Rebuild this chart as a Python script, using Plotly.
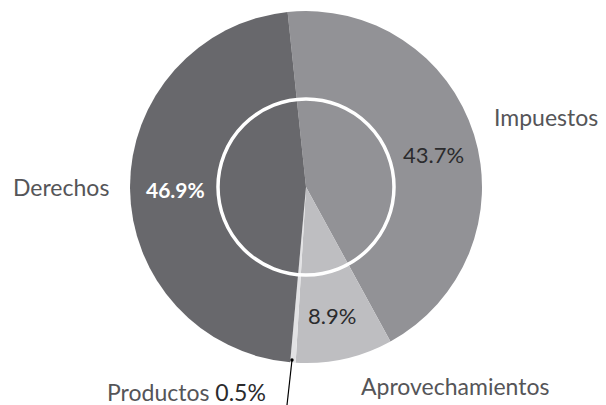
import plotly.graph_objects as go

categories = ["Impuestos", "Aprovechamientos", "Productos", "Derechos"]
values = [43.7, 8.9, 0.5, 46.9]
colors = ["#929296", "#bebec1", "#e2e2e4", "#68686c"]

W, H = 606, 405
cx, cy, R = 306, 187, 176

fig = go.Figure(go.Pie(
    labels=categories,
    values=values,
    sort=False,
    direction="clockwise",
    rotation=-6,
    marker=dict(colors=colors, line=dict(width=0)),
    textinfo="none",
    hoverinfo="label+percent",
    showlegend=False,
    domain=dict(x=[(cx - R) / W, (cx + R) / W], y=[(H - cy - R) / H, (H - cy + R) / H]),
))

font = "Lato, 'Open Sans', sans-serif"
label_color = "#555558"
dark = "#2b2b2d"

def px(x):
    return x / W

def py(y):
    return 1 - y / H

pct = {c: f"{v:.1f}%" for c, v in zip(categories, values)}

LS = 23
annotations = [
    dict(x=px(546), y=py(117), text=categories[0], font=dict(size=LS, color=label_color, family=font)),
    dict(x=px(61), y=py(187), text=categories[3], font=dict(size=LS, color=label_color, family=font)),
    dict(x=px(455), y=py(386), text=categories[1], font=dict(size=LS, color=label_color, family=font)),
    dict(x=px(186), y=py(392), text=f"{categories[2]} <span style='color:{dark}'>{pct['Productos']}</span>",
         font=dict(size=LS, color=label_color, family=font)),
    dict(x=px(433), y=py(155), text=pct["Impuestos"], font=dict(size=22, color=dark, family=font)),
    dict(x=px(175), y=py(189), text=f"<b>{pct['Derechos']}</b>", font=dict(size=21, color="white", family=font)),
    dict(x=px(332), y=py(315), text=pct["Aprovechamientos"], font=dict(size=22, color=dark, family=font)),
]
for a in annotations:
    a.update(xref="paper", yref="paper", showarrow=False, xanchor="center", yanchor="middle")

r_in = 88
shapes = [
    dict(type="circle", xref="paper", yref="paper",
         x0=px(cx - r_in), x1=px(cx + r_in), y0=py(cy + r_in), y1=py(cy - r_in),
         line=dict(color="white", width=3.5), layer="above"),
    dict(type="line", xref="paper", yref="paper", x0=px(292), y0=py(360), x1=px(287), y1=py(405),
         line=dict(color="black", width=1.2), layer="above"),
    dict(type="circle", xref="paper", yref="paper", x0=px(290.3), x1=px(293.7), y0=py(361.7), y1=py(358.3),
         fillcolor="black", line=dict(color="black", width=0), layer="above"),
]

fig.update_layout(
    width=W, height=H,
    margin=dict(l=0, r=0, t=0, b=0),
    paper_bgcolor="white", plot_bgcolor="white",
    annotations=annotations,
    shapes=shapes,
)

fig.write_html("out.html", config={"displayModeBar": False},
               post_script="document.body.style.margin='0';document.body.style.overflow='hidden';")
